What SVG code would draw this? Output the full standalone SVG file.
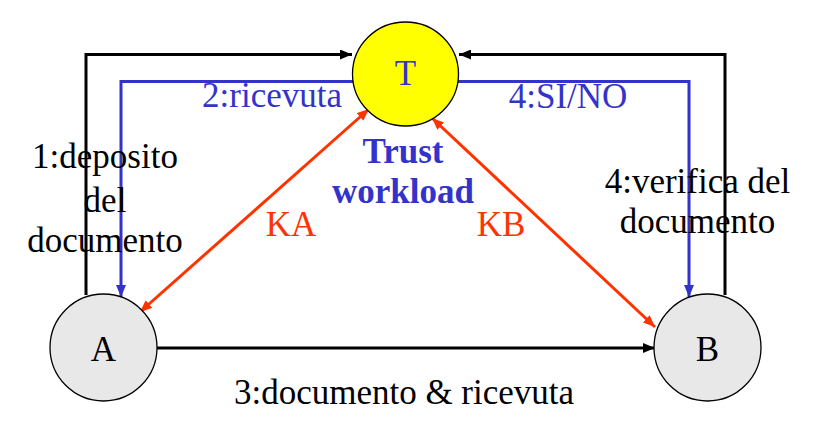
<svg xmlns="http://www.w3.org/2000/svg" width="831" height="447" viewBox="0 0 831 447">
<style>
text{font-family:"Liberation Serif","Times New Roman",serif;font-size:35px;text-anchor:middle}
.blk{fill:#000}
.blu{fill:#3333cc}
.org{fill:#ff3300}
.bold{font-weight:bold}
.node{stroke:#000;stroke-width:1.3}
.lk{fill:none;stroke:#000;stroke-width:3}
.lb{fill:none;stroke:#3333cc;stroke-width:3}
.lo{fill:none;stroke:#ff3300;stroke-width:3}
</style>
<defs>
<marker id="ak" viewBox="0 0 12 10" markerWidth="12" markerHeight="10" refX="12" refY="5" orient="auto" markerUnits="userSpaceOnUse"><path d="M0,0 L12,5 L0,10 z" fill="#000"/></marker>
<marker id="ab" viewBox="0 0 12 10" markerWidth="12" markerHeight="10" refX="12" refY="5" orient="auto" markerUnits="userSpaceOnUse"><path d="M0,0 L12,5 L0,10 z" fill="#3333cc"/></marker>
<marker id="ao" viewBox="0 0 12 10" markerWidth="12" markerHeight="10" refX="12" refY="5" orient="auto" markerUnits="userSpaceOnUse"><path d="M0,0 L12,5 L0,10 z" fill="#ff3300"/></marker>
<marker id="aos" viewBox="0 0 12 10" markerWidth="12" markerHeight="10" refX="0" refY="5" orient="auto" markerUnits="userSpaceOnUse"><path d="M12,0 L0,5 L12,10 z" fill="#ff3300"/></marker>
</defs>
<g id="connectors">
<path class="lk" d="M86,295 V54.5 H352" marker-end="url(#ak)"/>
<path class="lk" d="M725,295 V54.5 H459" marker-end="url(#ak)"/>
<path class="lb" d="M355,81.5 H121 V297" marker-end="url(#ab)"/>
<path class="lb" d="M456,81.5 H689 V297" marker-end="url(#ab)"/>
<path class="lo" d="M369,109 L140,312" marker-start="url(#aos)" marker-end="url(#ao)"/>
<path class="lo" d="M432,118 L655,327" marker-start="url(#aos)" marker-end="url(#ao)"/>
<path class="lk" d="M157,348 H655" marker-end="url(#ak)"/>
</g>
<g id="T">
<ellipse class="node" cx="405.5" cy="74" rx="53" ry="52" fill="#ffff00"/>
<text class="blu" x="405.5" y="85">T</text>
</g>
<g id="A">
<ellipse class="node" cx="103.5" cy="347.5" rx="53.5" ry="53.5" fill="#e8e8e8"/>
<text class="blk" x="103.5" y="361">A</text>
</g>
<g id="B">
<ellipse class="node" cx="707.5" cy="347.5" rx="53.5" ry="53.5" fill="#e8e8e8"/>
<text class="blk" x="707.5" y="361">B</text>
</g>
<g id="labels">
<text class="blu" x="272" y="107">2:ricevuta</text>
<text class="blu" x="568" y="108">4:SI/NO</text>
<text class="blu bold" x="403" y="163">Trust</text>
<text class="blu bold" x="403" y="203">workload</text>
<text class="blk" x="105" y="168">1:deposito</text>
<text class="blk" x="105" y="212">del</text>
<text class="blk" x="105" y="252">documento</text>
<text class="blk" x="697.5" y="193">4:verifica del</text>
<text class="blk" x="697.5" y="233">documento</text>
<text class="org" x="291" y="236">KA</text>
<text class="org" x="501" y="236">KB</text>
<text class="blk" x="404" y="404">3:documento &amp; ricevuta</text>
</g>
</svg>
